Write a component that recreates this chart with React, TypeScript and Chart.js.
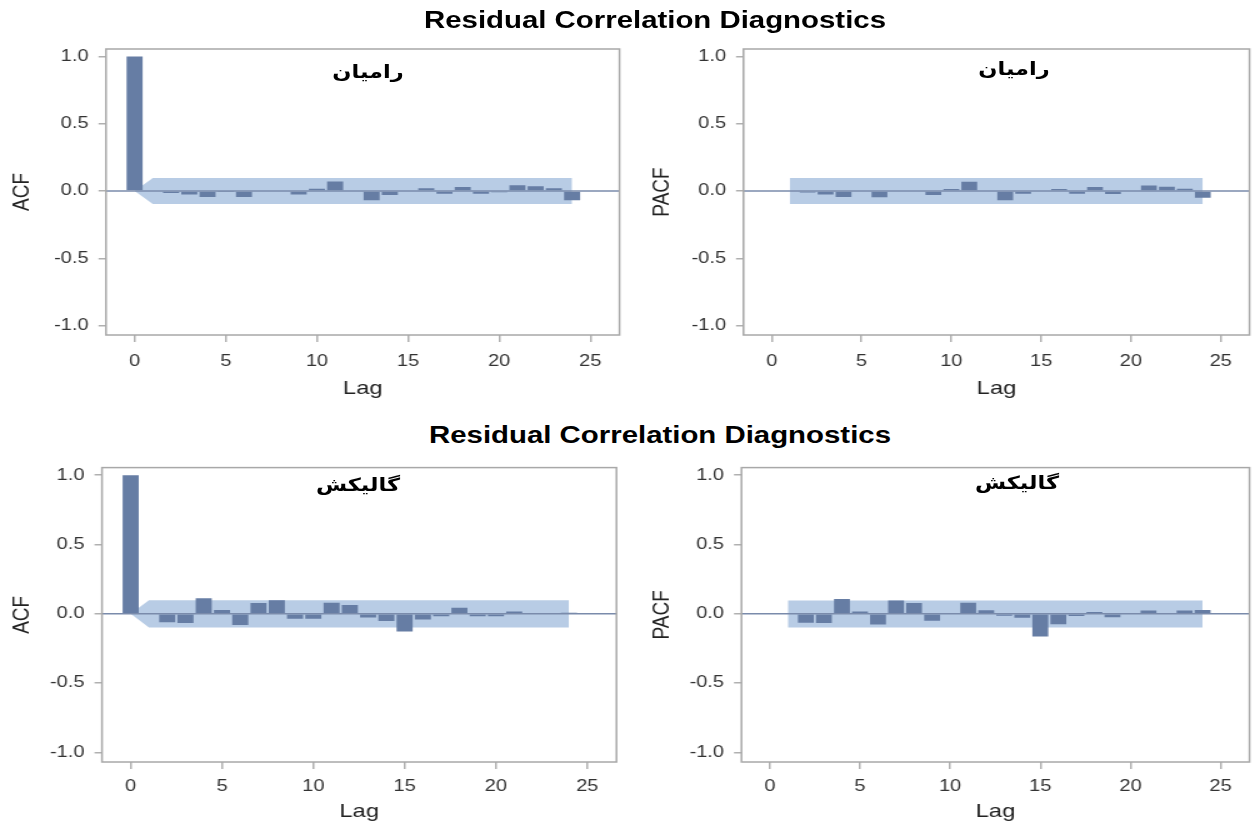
import React, { useEffect, useRef } from "react";
import { Chart, registerables } from "chart.js";

Chart.register(...registerables);

// ---------------- data ----------------
const ACF_LAGS = [0, 1, 2, 3, 4, 5, 6, 7, 8, 9, 10, 11, 12, 13, 14, 15, 16, 17, 18, 19, 20, 21, 22, 23, 24];
const PACF_LAGS = [1, 2, 3, 4, 5, 6, 7, 8, 9, 10, 11, 12, 13, 14, 15, 16, 17, 18, 19, 20, 21, 22, 23, 24];

const ACF_RAMIYAN = [1.0, -0.005, -0.015, -0.027, -0.044, -0.002, -0.044, 0.0, 0.0, -0.027, 0.017, 0.07, 0.0, -0.069, -0.03, 0.0, 0.02, -0.02, 0.03, -0.02, -0.01, 0.042, 0.035, 0.02, -0.069];
const PACF_RAMIYAN = [-0.005, -0.012, -0.027, -0.044, 0.0, -0.047, 0.0, 0.0, -0.03, 0.015, 0.069, 0.0, -0.069, -0.02, 0.0, 0.015, -0.02, 0.03, -0.022, 0.0, 0.04, 0.032, 0.017, -0.05];
const ACF_GALIKESH = [1.0, 0.0, -0.062, -0.066, 0.112, 0.028, -0.081, 0.078, 0.098, -0.036, -0.036, 0.08, 0.064, -0.027, -0.053, -0.128, -0.041, -0.018, 0.043, -0.018, -0.018, 0.017, 0.0, 0.0, 0.007];
const PACF_GALIKESH = [0.0, -0.064, -0.067, 0.106, 0.016, -0.077, 0.096, 0.078, -0.05, 0.0, 0.079, 0.026, -0.015, -0.028, -0.164, -0.076, -0.017, 0.012, -0.025, 0.0, 0.024, 0.0, 0.024, 0.028];

const ACF_BAND_LAGS = [0, 1, 24];
const PACF_BAND_LAGS = [1, 24];
const BAND_UP_RAMIYAN_ACF = [0, 0.096, 0.096];
const BAND_LO_RAMIYAN_ACF = [0, -0.097, -0.097];
const BAND_UP_RAMIYAN_PACF = [0.096, 0.096];
const BAND_LO_RAMIYAN_PACF = [-0.097, -0.097];
const BAND_UP_GALIKESH_ACF = [0, 0.098, 0.098];
const BAND_LO_GALIKESH_ACF = [0, -0.099, -0.099];
const BAND_UP_GALIKESH_PACF = [0.096, 0.096];
const BAND_LO_GALIKESH_PACF = [-0.099, -0.099];

const X_TICKS = [0, 5, 10, 15, 20, 25];
const Y_TICKS = [-1.0, -0.5, 0.0, 0.5, 1.0];
const X_RANGE = [-1.57, 26.6];
const Y_RANGE = [-1.07, 1.055];

const MAIN_TITLE = "Residual Correlation Diagnostics";
const SITE_RAMIYAN = "رامیان";
const SITE_GALIKESH = "گالیکش";
const X_TITLE = "Lag";

// ---------------- style ----------------
const S = 1.25; // horizontal stretch of the reference picture
const FONT = '"Liberation Sans", Arial, sans-serif';
const BAR = "#667da4";
const BAND = "#b8cce5";
const ZERO = "#7a8bab";
const FRAME = "#a8a8a8";
const TICKC = "#b0b0b0";
const TEXT = "#333333";
const TICK_SIZE = 16;
const AXIS_TITLE_SIZE = 19;

type PanelDef = {
  cl: number; ct: number; cw: number; ch: number;
  area: { l: number; t: number; r: number; b: number };
  yTitle: string; yTitleX: number; lagY: number; tickLabelY: number;
  lags: number[]; vals: number[];
  bandLags: number[]; bandUp: number[]; bandLo: number[];
};

const PANELS: PanelDef[] = [
  { cl: 0, ct: 25, cw: 632, ch: 390, area: { l: 106, t: 49, r: 619, b: 335 }, yTitle: "ACF", yTitleX: 22, lagY: 389, tickLabelY: 362,
    lags: ACF_LAGS, vals: ACF_RAMIYAN, bandLags: ACF_BAND_LAGS, bandUp: BAND_UP_RAMIYAN_ACF, bandLo: BAND_LO_RAMIYAN_ACF },
  { cl: 632, ct: 25, cw: 620, ch: 390, area: { l: 743, t: 49, r: 1249, b: 335 }, yTitle: "PACF", yTitleX: 662, lagY: 389, tickLabelY: 362,
    lags: PACF_LAGS, vals: PACF_RAMIYAN, bandLags: PACF_BAND_LAGS, bandUp: BAND_UP_RAMIYAN_PACF, bandLo: BAND_LO_RAMIYAN_PACF },
  { cl: 0, ct: 450, cw: 632, ch: 377, area: { l: 102, t: 463, r: 616, b: 762 }, yTitle: "ACF", yTitleX: 22, lagY: 812, tickLabelY: 787,
    lags: ACF_LAGS, vals: ACF_GALIKESH, bandLags: ACF_BAND_LAGS, bandUp: BAND_UP_GALIKESH_ACF, bandLo: BAND_LO_GALIKESH_ACF },
  { cl: 632, ct: 450, cw: 620, ch: 377, area: { l: 741, t: 463, r: 1249, b: 762 }, yTitle: "PACF", yTitleX: 662, lagY: 812, tickLabelY: 787,
    lags: PACF_LAGS, vals: PACF_GALIKESH, bandLags: PACF_BAND_LAGS, bandUp: BAND_UP_GALIKESH_PACF, bandLo: BAND_LO_GALIKESH_PACF },
];

const framePlugin = {
  id: "frame",
  afterDatasetsDraw(chart: any) {
    const { ctx, chartArea: a } = chart;
    ctx.save();
    ctx.strokeStyle = FRAME;
    ctx.lineWidth = 1.5;
    ctx.strokeRect(a.left, a.top, a.right - a.left, a.bottom - a.top);
    ctx.restore();
  },
};

function makeConfig(p: PanelDef): any {
  const yAxisW = (p.area.l - p.cl) / S;
  const xAxisH = p.ct + p.ch - p.area.b;
  const padRight = (p.cl + p.cw - p.area.r) / S;
  const padTop = p.area.t - p.ct;
  const titleLH = AXIS_TITLE_SIZE * 1.2;
  const yTitlePad = (p.yTitleX - p.cl) / S - titleLH / 2;
  const lagPad = p.ct + p.ch - p.lagY - titleLH / 2;
  const tickLen = 7;
  const xTickPad = p.tickLabelY - p.area.b - tickLen - (TICK_SIZE * 1.2) / 2;

  return {
    type: "bar",
    data: {
      datasets: [
        {
          type: "line",
          data: [{ x: X_RANGE[0], y: 0 }, { x: X_RANGE[1], y: 0 }],
          borderColor: ZERO,
          borderWidth: 1.5,
          pointRadius: 0,
          fill: false,
          order: 0,
        },
        {
          type: "bar",
          data: p.lags.map((x, i) => ({ x, y: p.vals[i] })),
          backgroundColor: BAR,
          borderWidth: 0,
          barPercentage: 0.88,
          categoryPercentage: 1,
          order: 1,
        },
        {
          type: "line",
          data: p.bandLags.map((x, i) => ({ x, y: p.bandUp[i] })),
          borderColor: "rgba(0,0,0,0)",
          borderWidth: 0,
          pointRadius: 0,
          backgroundColor: BAND,
          fill: "+1",
          tension: 0,
          order: 2,
        },
        {
          type: "line",
          data: p.bandLags.map((x, i) => ({ x, y: p.bandLo[i] })),
          borderColor: "rgba(0,0,0,0)",
          borderWidth: 0,
          pointRadius: 0,
          fill: false,
          tension: 0,
          order: 3,
        },
      ],
    },
    options: {
      responsive: false,
      maintainAspectRatio: false,
      animation: false,
      events: [],
      layout: { padding: { left: 0, top: padTop, right: padRight, bottom: 0 } },
      plugins: { legend: { display: false }, tooltip: { enabled: false }, title: { display: false } },
      scales: {
        x: {
          type: "linear",
          position: "bottom",
          min: X_RANGE[0],
          max: X_RANGE[1],
          offset: false,
          afterBuildTicks: (ax: any) => { ax.ticks = X_TICKS.map((value) => ({ value })); },
          afterFit: (ax: any) => { ax.height = xAxisH; },
          ticks: {
            color: TEXT,
            font: { size: TICK_SIZE, family: FONT },
            padding: xTickPad,
            maxRotation: 0,
            autoSkip: false,
            callback: (v: any) => String(v),
          },
          grid: { display: true, drawOnChartArea: false, drawTicks: true, tickLength: tickLen, color: TICKC, lineWidth: 1.5, offset: false },
          border: { display: false },
          title: { display: true, text: X_TITLE, color: "#222", font: { size: AXIS_TITLE_SIZE, family: FONT }, padding: { top: 0, bottom: lagPad } },
        },
        y: {
          type: "linear",
          position: "left",
          min: Y_RANGE[0],
          max: Y_RANGE[1],
          afterBuildTicks: (ax: any) => { ax.ticks = Y_TICKS.map((value) => ({ value })); },
          afterFit: (ax: any) => { ax.width = yAxisW; },
          ticks: {
            color: TEXT,
            font: { size: TICK_SIZE, family: FONT },
            padding: 8,
            autoSkip: false,
            callback: (v: any) => Number(v).toFixed(1),
          },
          grid: { display: true, drawOnChartArea: false, drawTicks: true, tickLength: 6, color: TICKC, lineWidth: 1.5 },
          border: { display: false },
          title: { display: true, text: p.yTitle, color: "#222", font: { size: AXIS_TITLE_SIZE, family: FONT }, padding: { top: yTitlePad, bottom: 0 } },
        },
      },
    },
    plugins: [framePlugin],
  };
}

function Panel({ p }: { p: PanelDef }) {
  const ref = useRef<HTMLCanvasElement | null>(null);
  const w = Math.round(p.cw / S);
  useEffect(() => {
    if (!ref.current) return;
    const chart = new Chart(ref.current, makeConfig(p));
    return () => chart.destroy();
  }, []);
  return (
    <canvas
      ref={ref}
      width={w}
      height={p.ch}
      style={{ position: "absolute", left: p.cl / S, top: p.ct, width: w, height: p.ch, display: "block" }}
    />
  );
}

function Label({ text, cx, cy, size, family, weight }: { text: string; cx: number; cy: number; size: number; family: string; weight: string | number }) {
  return (
    <div
      style={{
        position: "absolute",
        left: cx / S,
        top: cy,
        transform: "translate(-50%, -50%)",
        whiteSpace: "nowrap",
        fontFamily: family,
        fontWeight: weight as any,
        fontSize: size,
        lineHeight: 1,
        color: "#000",
      }}
    >
      {text}
    </div>
  );
}

export default function App() {
  return (
    <div
      style={{
        position: "absolute",
        left: 0,
        top: 0,
        width: 1252 / S,
        height: 827,
        overflow: "hidden",
        background: "#fff",
        transform: `scaleX(${S})`,
        transformOrigin: "0 0",
      }}
    >
      {PANELS.map((p, i) => (
        <Panel key={i} p={p} />
      ))}
      <Label text={MAIN_TITLE} cx={655} cy={21} size={23.5} family={FONT} weight={700} />
      <Label text={MAIN_TITLE} cx={660} cy={436} size={23.5} family={FONT} weight={700} />
      <Label text={SITE_RAMIYAN} cx={368} cy={72} size={18} family={'"DejaVu Sans", sans-serif'} weight={700} />
      <Label text={SITE_RAMIYAN} cx={1014} cy={69} size={18} family={'"DejaVu Sans", sans-serif'} weight={700} />
      <Label text={SITE_GALIKESH} cx={358} cy={485} size={18} family={'"DejaVu Sans", sans-serif'} weight={700} />
      <Label text={SITE_GALIKESH} cx={1017} cy={483} size={18} family={'"DejaVu Sans", sans-serif'} weight={700} />
    </div>
  );
}
